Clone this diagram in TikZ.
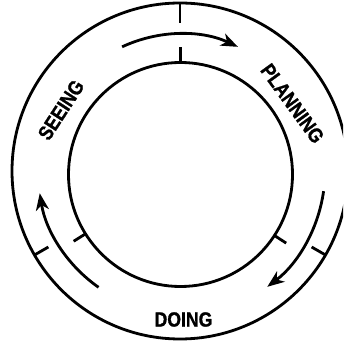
\documentclass[tikz,border=0pt]{standalone}
\usepackage{fontspec}
\setmainfont{Liberation Sans}
\newfontfamily\heavyfont[FakeBold=1.2]{Liberation Sans Bold}
\usetikzlibrary{arrows.meta}
\begin{document}
\begin{tikzpicture}[x=1pt,y=1pt,
  ring/.style={line width=2.8pt},
  tickmark/.style={line width=2.8pt},
  cyc/.style={line width=2.8pt,-{Stealth[length=17pt,width=13pt,inset=5pt]}},
  lbl/.style={font=\heavyfont\fontsize{20.5}{20.5}\selectfont, inner sep=0pt}]
\useasboundingbox (0,0) rectangle (343,347);
\clip (0,0) rectangle (343,347);
\coordinate (O) at (180,176);
\coordinate (I) at (180.5,172.5);
% circles
\draw[ring] (O) circle[radius=168];
\draw[ring] (I) circle[radius=112];
% outer ticks
\coordinate (to1) at ([shift={(90:168)}]O);
\coordinate (to2) at ([shift={(90:148)}]O);
\coordinate (ro1) at ([shift={(-30:168)}]O);
\coordinate (ro2) at ([shift={(-30:152)}]O);
\coordinate (lo1) at ([shift={(210:168)}]O);
\coordinate (lo2) at ([shift={(210:152)}]O);
\draw[tickmark] (to1) -- (to2);
\draw[tickmark] (ro1) -- (ro2);
\draw[tickmark] (lo1) -- (lo2);
% inner ticks
\coordinate (ti1) at ([shift={(90:112)}]I);
\coordinate (ti2) at ([shift={(90:127)}]I);
\coordinate (ri1) at ([shift={(-33:112)}]I);
\coordinate (ri2) at ([shift={(-33:126)}]I);
\coordinate (li1) at ([shift={(212:112)}]I);
\coordinate (li2) at ([shift={(212:126)}]I);
\draw[tickmark] (ti1) -- (ti2);
\draw[tickmark] (ri1) -- (ri2);
\draw[tickmark] (li1) -- (li2);
% arrows
\coordinate (a1) at ([shift={(115:137)}]O);
\draw[cyc] (a1) arc[start angle=115, end angle=65, radius=137];
\coordinate (a2) at ([shift={(-8:145)}]O);
\draw[cyc] (a2) arc[start angle=-8, end angle=-53, radius=145];
\coordinate (a3) at ([shift={(235:142)}]O);
\draw[cyc] (a3) arc[start angle=235, end angle=189, radius=142];
% labels
\node[lbl, rotate=-54] (plan) at (292.5,243.5) {\scalebox{0.86}[1]{PLANNING}};
\node[lbl, rotate=57] (see) at (61,237) {\scalebox{0.86}[1]{SEEING}};
\node[lbl] (do) at (183.5,27.5) {\scalebox{0.86}[1]{DOING}};
\end{tikzpicture}
\end{document}
